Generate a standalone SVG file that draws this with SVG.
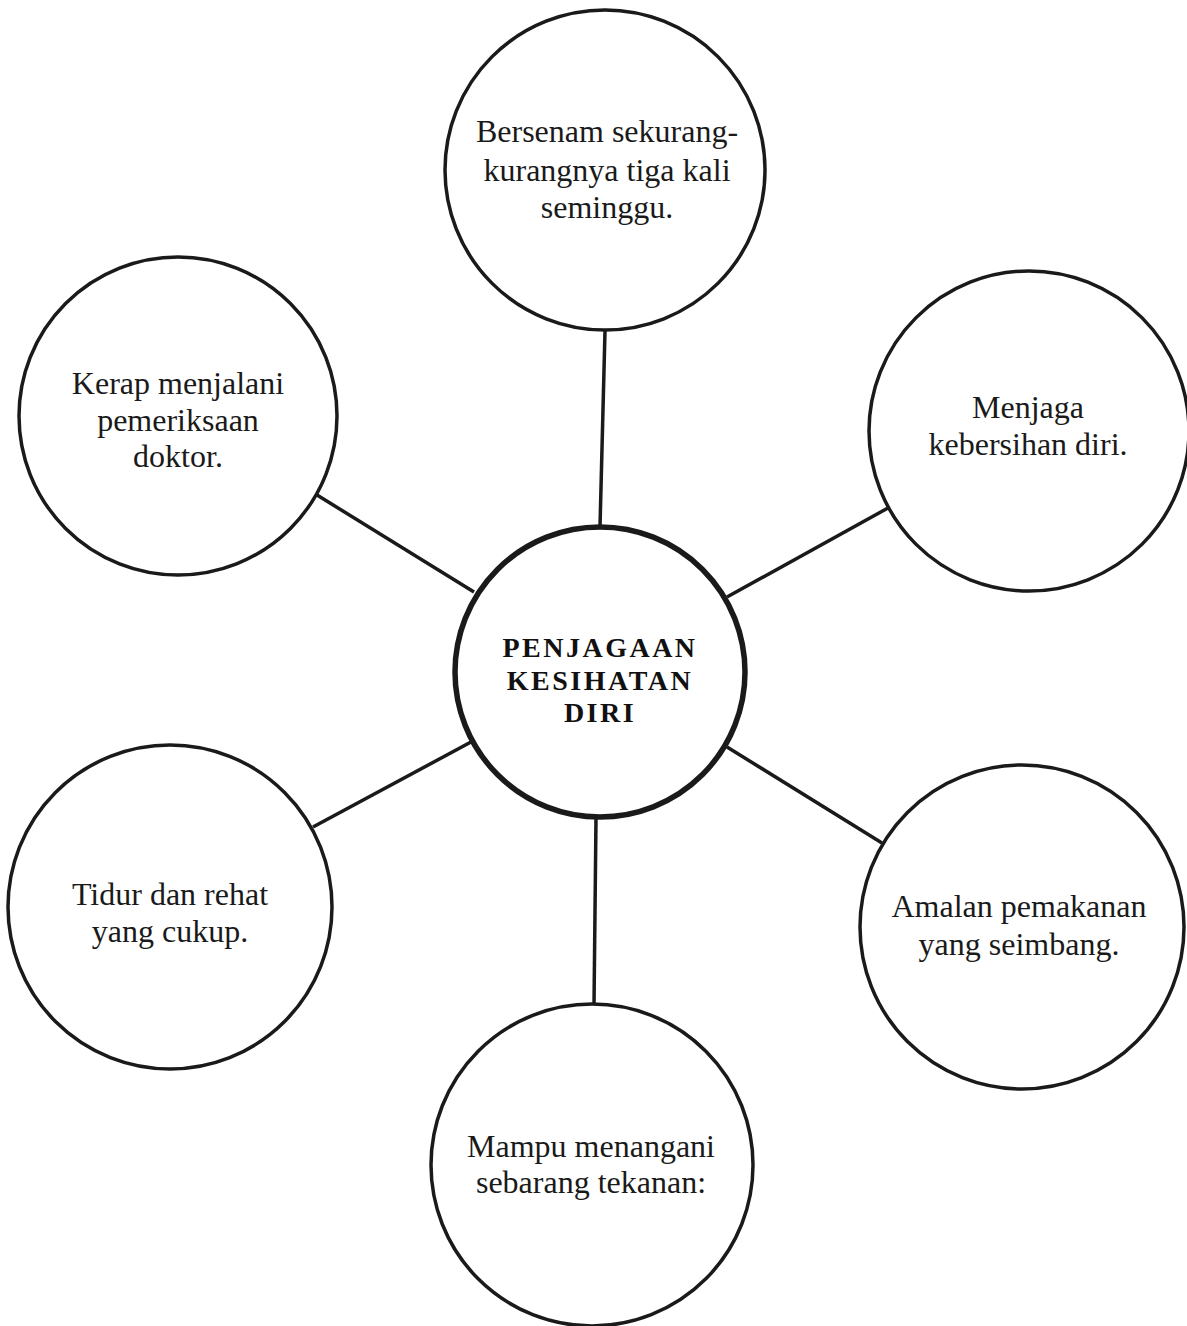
<svg xmlns="http://www.w3.org/2000/svg" width="1187" height="1326" viewBox="0 0 1187 1326">
<style>
.node{fill:#ffffff;stroke:#1a1a1a;stroke-width:3.5}
.hub{fill:#ffffff;stroke:#1a1a1a;stroke-width:5.5}
.lbl{font-family:"Liberation Serif","Times New Roman",serif;font-size:32px;fill:#1a1a1a;text-anchor:middle}
.hubl{font-family:"Liberation Serif","Times New Roman",serif;font-size:28px;font-weight:bold;letter-spacing:2.5px;fill:#111;text-anchor:middle}
.conn{stroke:#1a1a1a;stroke-width:3.5;fill:none}
</style>
<rect width="1187" height="1326" fill="#ffffff"/>
<g id="connectors">
<line class="conn" x1="605" y1="331" x2="600" y2="527"/>
<line class="conn" x1="317" y1="495" x2="474" y2="592"/>
<line class="conn" x1="888" y1="508" x2="727" y2="597"/>
<line class="conn" x1="313" y1="827" x2="471" y2="742"/>
<line class="conn" x1="882" y1="843" x2="727" y2="747"/>
<line class="conn" x1="596" y1="818" x2="594" y2="1005"/>
</g>
<g id="hub">
<circle class="hub" cx="600" cy="672" r="145"/>
<text class="hubl" x="600" y="657">PENJAGAAN</text>
<text class="hubl" x="600" y="690">KESIHATAN</text>
<text class="hubl" x="600" y="722">DIRI</text>
</g>
<g id="node-bersenam">
<circle class="node" cx="605" cy="170" r="160"/>
<text class="lbl" x="607" y="142">Bersenam sekurang-</text>
<text class="lbl" x="607" y="181">kurangnya tiga kali</text>
<text class="lbl" x="607" y="218">seminggu.</text>
</g>
<g id="node-kerap">
<circle class="node" cx="178" cy="416" r="159"/>
<text class="lbl" x="178" y="394">Kerap menjalani</text>
<text class="lbl" x="178" y="431">pemeriksaan</text>
<text class="lbl" x="178" y="467">doktor.</text>
</g>
<g id="node-menjaga">
<circle class="node" cx="1029" cy="431" r="160"/>
<text class="lbl" x="1028" y="418">Menjaga</text>
<text class="lbl" x="1028" y="455">kebersihan diri.</text>
</g>
<g id="node-tidur">
<circle class="node" cx="170" cy="907" r="162"/>
<text class="lbl" x="170" y="905">Tidur dan rehat</text>
<text class="lbl" x="170" y="942">yang cukup.</text>
</g>
<g id="node-amalan">
<circle class="node" cx="1022" cy="927" r="162"/>
<text class="lbl" x="1019" y="917">Amalan pemakanan</text>
<text class="lbl" x="1019" y="955">yang seimbang.</text>
</g>
<g id="node-mampu">
<circle class="node" cx="592" cy="1165" r="161"/>
<text class="lbl" x="591" y="1157">Mampu menangani</text>
<text class="lbl" x="591" y="1193">sebarang tekanan:</text>
</g>
</svg>
